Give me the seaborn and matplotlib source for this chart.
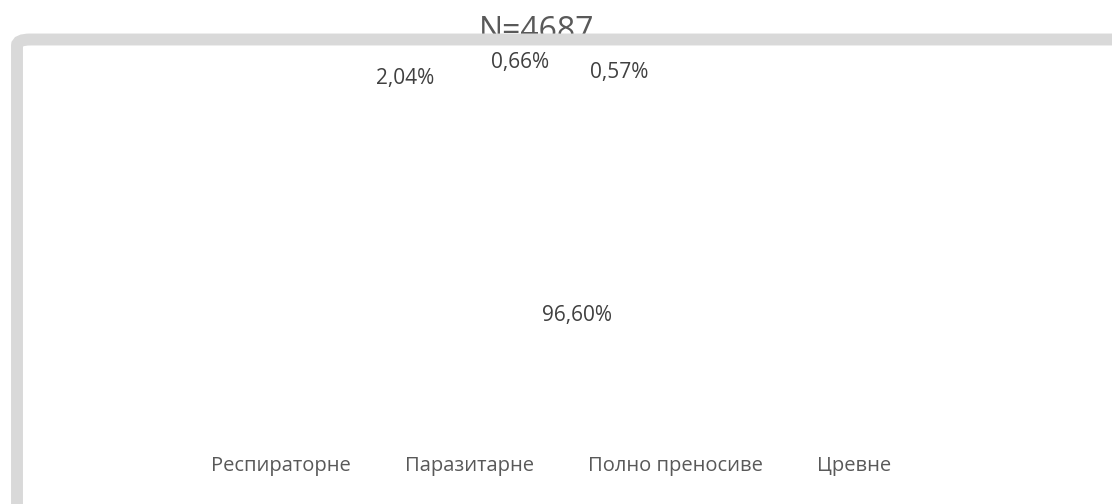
import numpy as np
import seaborn as sns
import matplotlib.pyplot as plt
from matplotlib.patches import FancyBboxPatch

# data
categories = ['Респираторне', 'Паразитарне', 'Полно преносиве', 'Цревне']
shares = [96.60, 2.04, 0.66, 0.57]
total_n = 4687

sns.set_theme(style='white')
plt.rcParams['font.family'] = ['Open Sans', 'DejaVu Sans']

W, H = 1112, 504
fig = plt.figure(figsize=(W / 100, H / 100), dpi=100)
fig.patch.set_facecolor('white')

# title sits behind the grey frame, like the original export
fig.text(537 / W, (H - 27.5) / H, f'N={total_n}', ha='center',
         va='center_baseline', fontsize=23, color='#595959', zorder=0)

# grey rounded frame, cut by the right and bottom edges
frame = FancyBboxPatch((17 / W, -0.2), 1.2, (H - 39.5) / H + 0.2,
                       boxstyle='round,pad=0,rounding_size=0.012',
                       transform=fig.transFigure, facecolor='white',
                       edgecolor='#d9d9d9', linewidth=8.6, zorder=0.5)
fig.patches.append(frame)

# pie axes: centre (570, 270) px, radius 175 px
cx, cy, R = 570, 270, 175
ax = fig.add_axes([(cx - R) / W, (H - cy - R) / H, 2 * R / W, 2 * R / H])
ax.set_zorder(1)
ax.patch.set_alpha(0)
wedges, _ = ax.pie(shares, colors=['white'] * len(shares), startangle=90,
                   counterclock=False,
                   wedgeprops=dict(edgecolor='white', linewidth=1))
ax.set_xlim(-1, 1)
ax.set_ylim(-1, 1)
ax.set_aspect('equal')

# label placement (fraction of radius) and pixel nudges for the thin slices
label_r = [0.264, 1.0, 1.0, 1.0]
nudges = [(2, 0), (-140, 18), (-40, 33), (52, 23)]
for w, val, r, (dx, dy) in zip(wedges, shares, label_r, nudges):
    ang = np.deg2rad((w.theta1 + w.theta2) / 2)
    x, y = r * np.cos(ang), r * np.sin(ang)
    txt = f'{val:.2f}%'.replace('.', ',')
    ax.annotate(txt, (x, y), xytext=(dx, dy), textcoords='offset pixels',
                ha='center', va='center', fontsize=15, color='#404040')

leg = fig.legend(wedges, categories, loc='center', ncol=4,
                 bbox_to_anchor=(542 / W, (H - 466) / H), frameon=False,
                 fontsize=14.5, handlelength=0.5, handletextpad=0.4,
                 columnspacing=1.78, labelcolor='#595959')

fig.savefig('out.png', dpi=100, facecolor='white')
